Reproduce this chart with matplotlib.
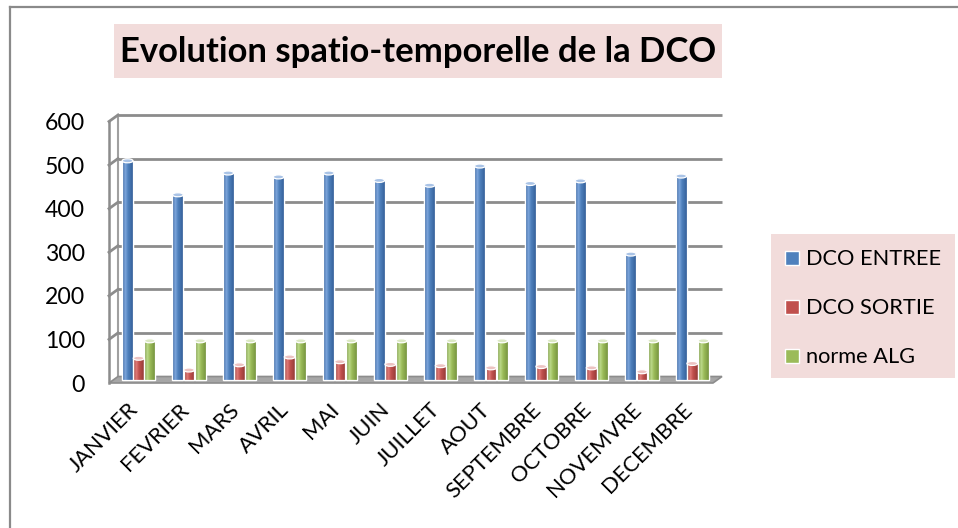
import matplotlib
matplotlib.use("Agg")
import matplotlib.pyplot as plt
import numpy as np
from matplotlib.patches import Rectangle, Ellipse, Polygon
from matplotlib.transforms import ScaledTranslation
from matplotlib.colors import LinearSegmentedColormap

plt.rcParams['font.family'] = ['Lato', 'DejaVu Sans']

# ---------------- data ----------------
months = ["JANVIER", "FEVRIER", "MARS", "AVRIL", "MAI", "JUIN", "JUILLET",
          "AOUT", "SEPTEMBRE", "OCTOBRE", "NOVEMVRE", "DECEMBRE"]
dco_entree = [503, 425, 475, 466, 475, 458, 447, 491, 451, 457, 289, 468]
dco_sortie = [50, 23, 35, 53, 42, 36, 33, 28, 31, 28, 19, 38]
norme_alg = [90, 90, 90, 90, 90, 90, 90, 90, 90, 90, 90, 90]
series_names = ["DCO ENTREE", "DCO SORTIE", "norme ALG"]
yticks = [0, 100, 200, 300, 400, 500, 600]
title = "Evolution spatio-temporelle de la DCO"

colors = ["#4f81bd", "#c0504d", "#9bbb59"]
darks = ["#35609a", "#963b38", "#76943f"]
lights = ["#7ea6dc", "#e07b78", "#bcd98a"]
caps = ["#a9c3e6", "#ecc2c1", "#dbe8c3"]
PINK = "#f2dcdb"
GRID = "#8c8c8c"

W, H = 958, 528
fig = plt.figure(figsize=(W / 100, H / 100), dpi=100)
fig.patch.set_facecolor("white")


def fx(x):
    return x / W


def fy(y):
    return 1 - y / H


# outer chart border (top and left visible)
fig.add_artist(plt.Line2D([fx(10), fx(10)], [fy(7), 0], color="#8a8a8a", lw=1.6))
fig.add_artist(plt.Line2D([fx(10), 1], [fy(7), fy(7)], color="#8a8a8a", lw=1.6))

# back wall axes
left, right, y0, y600 = 118, 722, 376.5, 115
ax = fig.add_axes([fx(left), fy(y0), (right - left) / W, (y0 - y600) / H])
ax.set_xlim(-0.5, len(months) - 0.5)
ax.set_ylim(0, 600)
ax.axis("off")

ppu_x = (right - left) / len(months)
ppu_y = (y0 - y600) / 600.0
dxw, dyw = 9 / ppu_x, 6.5 / ppu_y  # depth offset in data units

xmin, xmax = -0.5, len(months) - 0.5

# floor
floor = Polygon([(xmin, 0), (xmax, 0), (xmax - dxw, -dyw), (xmin - dxw, -dyw)],
                closed=True, facecolor="#a6a6a6", edgecolor="#8c8c8c", lw=1.2,
                clip_on=False, zorder=1)
ax.add_patch(floor)

# gridlines on back wall and left wall
for v in yticks[1:]:
    ax.plot([xmin, xmax], [v, v], color=GRID, lw=2.0, solid_capstyle="butt",
            clip_on=False, zorder=0.5)
    ax.plot([xmin - dxw, xmin], [v - dyw, v], color=GRID, lw=2.0,
            clip_on=False, zorder=0.5)
# left wall edges
ax.plot([xmin, xmin], [0, 600], color="#a0a0a0", lw=1.5, clip_on=False, zorder=0.4)
ax.plot([xmin - dxw, xmin - dxw], [-dyw, 600 - dyw], color=GRID, lw=1.8,
        clip_on=False, zorder=0.6)

# bars (cylinder-like shading)
trans_bar = ax.transData + ScaledTranslation(-4.5 / 100, -3.5 / 100, fig.dpi_scale_trans)
x = np.arange(len(months))
bw = 10.8 / ppu_x
offsets = [-bw * 1.03, 0, bw * 1.03]
cap_h = 4.0 / ppu_y
grad = np.linspace(0, 1, 64).reshape(1, -1)
for vals, c, d, l, cc, off in zip([dco_entree, dco_sortie, norme_alg], colors, darks,
                                  lights, caps, offsets):
    cmap = LinearSegmentedColormap.from_list("cyl", [(0, d), (0.3, l), (0.55, c), (1, d)])
    bars = ax.bar(x + off, vals, width=bw, color=c, edgecolor="white", lw=0.9,
                  zorder=3, clip_on=False)
    for b, xi, v in zip(bars, x + off, vals):
        b.set_transform(trans_bar)
        im = ax.imshow(grad, cmap=cmap, aspect="auto", interpolation="bilinear",
                       extent=(xi - bw / 2, xi + bw / 2, 0, v), zorder=3.2)
        im.set_transform(trans_bar)
        im.set_clip_path(b)
        edge = Rectangle((xi - bw / 2, 0), bw, v, facecolor="none", edgecolor="white",
                         lw=0.9, transform=trans_bar, zorder=3.4, clip_on=False)
        ax.add_patch(edge)
        e = Ellipse((xi, v), width=bw, height=cap_h, facecolor=cc, edgecolor="white",
                    lw=0.9, transform=trans_bar, zorder=4, clip_on=False)
        ax.add_patch(e)
ax.set_xlim(-0.5, len(months) - 0.5)
ax.set_ylim(0, 600)

# y tick labels (front plane)
trans_y = ax.transData + ScaledTranslation(-33 / 100, -8.5 / 100, fig.dpi_scale_trans)
ylabels = []
for v in yticks:
    t = ax.text(xmin, v, str(v), ha="right", va="center", fontsize=16,
                transform=trans_y, color="black")
    ylabels.append(t)

# x tick labels
trans_x = ax.transData + ScaledTranslation(-1 / 100, -23 / 100, fig.dpi_scale_trans)
xlabels = []
for i, m in enumerate(months):
    t = ax.text(i, 0, m, rotation=45, ha="right", va="top", fontsize=14,
                transform=trans_x, rotation_mode="default", color="black")
    xlabels.append(t)

# title box
fig.add_artist(Rectangle((fx(114), fy(78)), (722 - 114) / W, (78 - 24) / H,
                         transform=fig.transFigure, facecolor=PINK, edgecolor="none"))
ttl = fig.text(fx(418), fy(52), title, ha="center", va="center", fontsize=22,
               fontweight="bold", color="black")

# legend box
fig.add_artist(Rectangle((fx(771), fy(378)), (955 - 771) / W, (378 - 234) / H,
                         transform=fig.transFigure, facecolor=PINK, edgecolor="none"))
leg_texts = []
for k, (name, c) in enumerate(zip(series_names, colors)):
    yc = 258 + 49 * k
    fig.add_artist(Rectangle((fx(785), fy(yc + 7)), 14 / W, 14 / H,
                             transform=fig.transFigure, facecolor=c,
                             edgecolor="white", lw=1.0))
    t = fig.text(fx(806), fy(yc + 1), name, ha="left", va="center", fontsize=14,
                 color="black")
    leg_texts.append(t)

# fit font sizes to measured widths
fig.canvas.draw()
r = fig.canvas.get_renderer()


def fit(objs, ref, target):
    w = ref.get_window_extent(r).width
    s = ref.get_fontsize() * target / w
    for o in objs:
        o.set_fontsize(s)


fit([ttl], ttl, 596)
fit(ylabels, ylabels[-1], 40)
fit(xlabels, xlabels[0], 76)
fit(leg_texts, leg_texts[0], 135)

fig.savefig("out.png", dpi=100, facecolor="white")
